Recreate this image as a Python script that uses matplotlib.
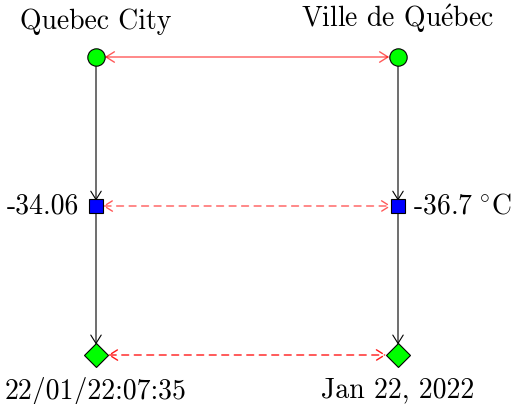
import matplotlib
matplotlib.use("Agg")
import matplotlib.pyplot as plt
from matplotlib.patches import FancyArrowPatch

plt.rcParams['font.family'] = ['cmr10', 'DejaVu Serif']
plt.rcParams['mathtext.fontset'] = 'cm'

# two columns (english / french), three rows (city, temperature, date)
columns = [0, 1]
rows = [0, 1, 2]
top_labels = ["Quebec City", r"Ville de Qu$\acute{\mathrm{e}}$bec"]
mid_labels = ["-34.06", r"-36.7$\;^{\circ}\mathrm{C}$"]
bottom_labels = ["22/01/22:07:35", "Jan 22, 2022"]

row_markers = ['o', 's', 'D']
row_colors = ['#00ff00', '#0000ff', '#00ff00']
row_sizes = [12.5, 9.5, 12.3]
row_half = [6.3, 4.9, 8.6]   # how far arrows stop from the node centre (pt)
row_styles = ['-', (0, (5, 4)), (0, (5, 4))]
row_alpha = [0.65, 0.65, 0.9]

fig = plt.figure(figsize=(5.12, 4.04), dpi=100)
ax = fig.add_axes([0, 0, 1, 1])
ax.set_xlim(-96 / 302, 416 / 302)
ax.set_ylim(347 / 149, -57 / 149)
ax.axis('off')

head = '->,head_length=0.4,head_width=0.25'
# vertical black arrows
for x in columns:
    for r in rows[:-1]:
        ax.add_patch(FancyArrowPatch((x, r), (x, r + 1), arrowstyle=head,
                                     color='black', lw=0.8, shrinkA=row_half[r], shrinkB=row_half[r + 1] - 1,
                                     zorder=1, mutation_scale=15))

# horizontal red double arrows
for r in rows:
    ax.add_patch(FancyArrowPatch((columns[0], r), (columns[1], r),
                                 arrowstyle='<' + head,
                                 color='red', alpha=row_alpha[r], lw=1.0, linestyle=row_styles[r],
                                 shrinkA=row_half[r], shrinkB=row_half[r], zorder=1, mutation_scale=15))

for r in rows:
    ax.plot(columns, [r, r], linestyle='none', marker=row_markers[r], markersize=row_sizes[r],
            markerfacecolor=row_colors[r], markeredgecolor='black', markeredgewidth=0.8, zorder=3)

fs = 20
for x, t in zip(columns, top_labels):
    ax.annotate(t, (x, rows[0]), xytext=(0, 16), textcoords='offset points', ha='center', va='bottom',
                fontsize=fs)
ax.annotate(mid_labels[0], (columns[0], rows[1]), xytext=(-12, 0), textcoords='offset points',
            ha='right', va='center', fontsize=fs)
ax.annotate(mid_labels[1], (columns[1], rows[1]), xytext=(10.5, 0), textcoords='offset points',
            ha='left', va='center', fontsize=fs)
for x, t in zip(columns, bottom_labels):
    ax.annotate(t, (x, rows[2]), xytext=(0, -15.5), textcoords='offset points', ha='center', va='top',
                fontsize=fs)

fig.savefig('out.png', dpi=100)
